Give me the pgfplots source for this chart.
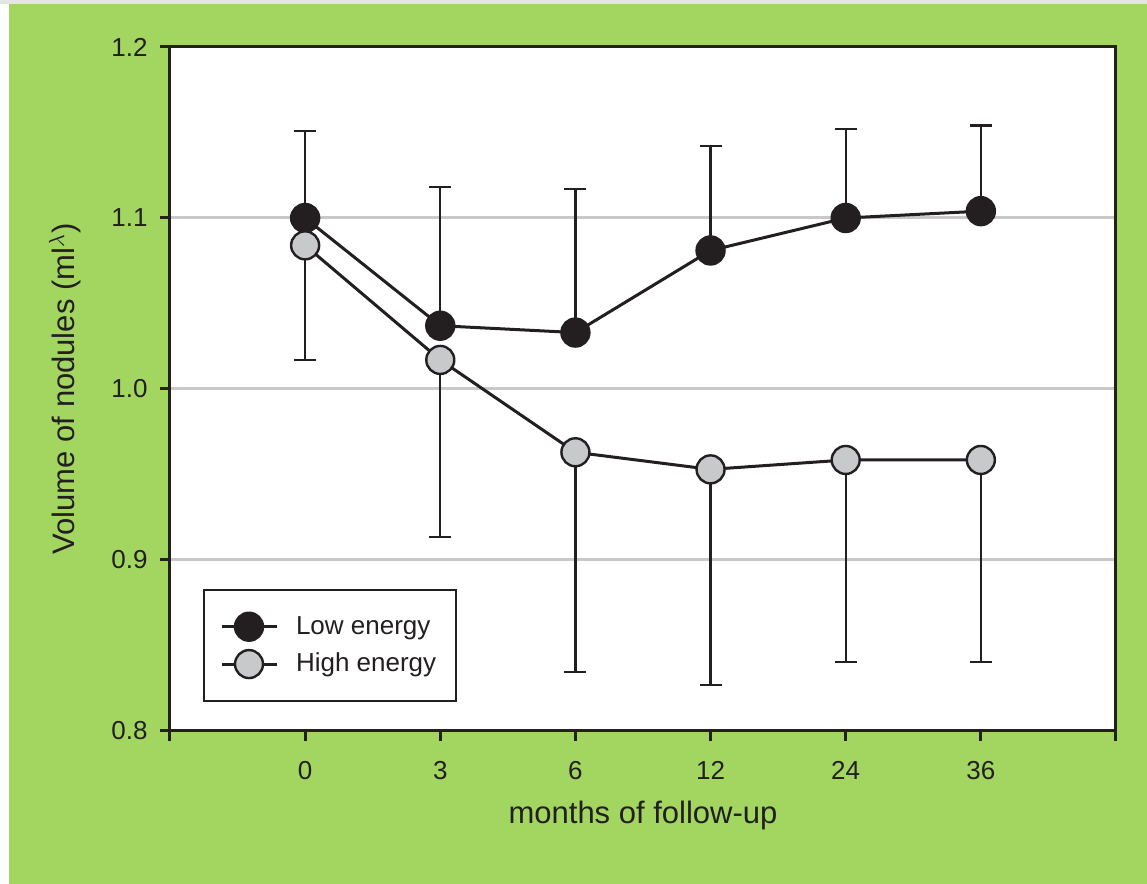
\documentclass[border=0pt]{standalone}
\usepackage{fontspec}
\setmainfont{Liberation Sans}
\usepackage{pgfplots}
\pgfplotsset{compat=1.18}
\definecolor{bg}{HTML}{A2D661}
\definecolor{ink}{HTML}{231F20}
\definecolor{lightfill}{HTML}{C8C9CB}
\definecolor{gridc}{HTML}{C8C8C8}
\begin{document}
\begin{tikzpicture}[x=1pt,y=1pt]
\fill[white] (-85,-76.5) rectangle (488.5,365.5);
\fill[gray!20] (-85,363.5) rectangle (488.5,365.5);
\fill[bg] (-80.5,-76.5) rectangle (488.5,363.5);
\begin{axis}[
  scale only axis, width=473pt, height=342pt,
  xmin=-1, xmax=6, ymin=0.8, ymax=1.2,
  axis background/.style={fill=white},
  axis line style={line width=1.5pt, ink},
  xtick={-1,0,1,2,3,4,5,6},
  xticklabels={,0,3,6,12,24,36,},
  ytick={0.8,0.9,1.0,1.1,1.2},
  xtick pos=bottom, ytick pos=left,
  tick align=outside, major tick length=5pt,
  every tick/.style={ink, line width=1.5pt},
  ymajorgrids, grid style={gridc, line width=1.5pt},
  /pgf/number format/assume math mode=true,
  ticklabel style={font=\fontsize{13}{15}\selectfont, text=ink},
  yticklabel style={/pgf/number format/fixed, /pgf/number format/fixed zerofill, /pgf/number format/precision=1, anchor=east, inner sep=0pt, xshift=-6pt},
  xticklabel style={anchor=base, inner sep=0pt, yshift=-19.5pt},
  xlabel={months of follow-up},
  ylabel={Volume of nodules (ml$^{\lambda}$)},
  every axis x label/.style={at={(axis description cs:0.5,0)}, anchor=base, yshift=-46pt, font=\fontsize{15.5}{18}\selectfont, text=ink},
  every axis y label/.style={at={(axis description cs:0,0.5)}, xshift=-52.5pt, rotate=90, anchor=center, font=\fontsize{15.5}{18}\selectfont, text=ink},
  legend style={at={(0.0349,0.0424)}, anchor=south west, draw=ink, line width=1pt, font=\fontsize{13}{15}\selectfont, text=ink, inner xsep=8pt, inner ysep=11pt, row sep=4pt, column sep=7pt},
  legend cell align=left,
  legend image code/.code={\draw[#1] (0pt,0pt) -- (27.5pt,0pt); \path[#1, mark repeat=1] plot coordinates {(13.75pt,0pt)};},
  error bars/y explicit,
]
\addplot[color=ink, line width=1.5pt, mark=*, mark size=7pt, mark options={fill=ink, draw=ink, line width=1.2pt},
  error bars/.cd, y dir=plus, error bar style={line width=1.2pt, ink}, error mark options={rotate=90, mark size=5.5pt, line width=1.2pt, ink}]
coordinates {
 (0,1.100) +- (0,0.051)
 (1,1.037) +- (0,0.081)
 (2,1.033) +- (0,0.084)
 (3,1.081) +- (0,0.061)
 (4,1.100) +- (0,0.052)
 (5,1.104) +- (0,0.050)
};
\addlegendentry{Low energy}
\addplot[color=ink, line width=1.5pt, mark=*, mark size=7pt, mark options={fill=lightfill, draw=ink, line width=1.2pt},
  error bars/.cd, y dir=minus, error bar style={line width=1.2pt, ink}, error mark options={rotate=90, mark size=5.5pt, line width=1.2pt, ink}]
coordinates {
 (0,1.084) +- (0,0.067)
 (1,1.017) +- (0,0.1035)
 (2,0.963) +- (0,0.1285)
 (3,0.953) +- (0,0.126)
 (4,0.9585) +- (0,0.118)
 (5,0.9585) +- (0,0.118)
};
\addlegendentry{High energy}
\end{axis}
\pgfresetboundingbox
\useasboundingbox (-85,-76.5) rectangle (488.5,365.5);
\end{tikzpicture}
\end{document}
